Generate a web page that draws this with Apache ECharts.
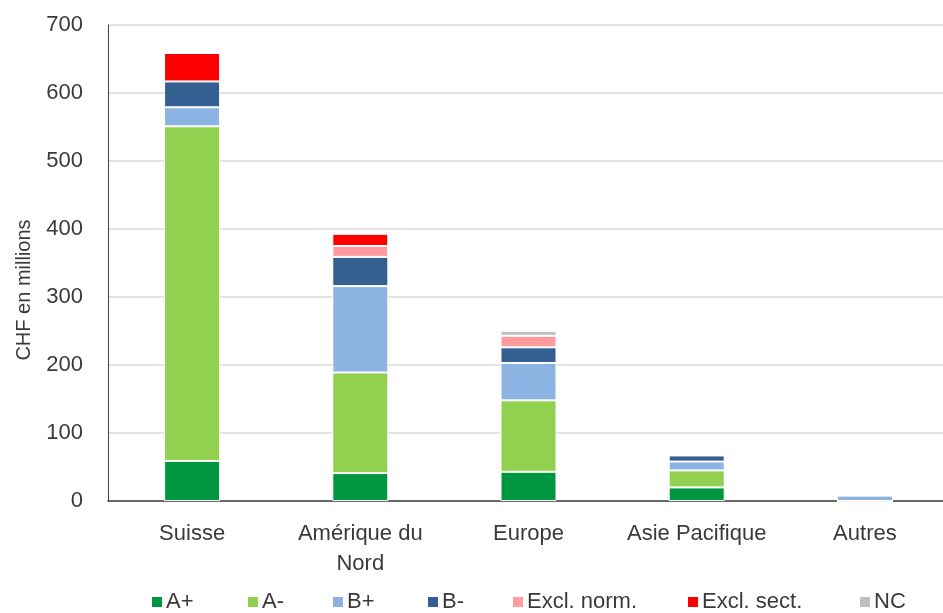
<!DOCTYPE html>
<html>
<head>
<meta charset="utf-8">
<script src="https://cdn.jsdelivr.net/npm/echarts@6/dist/echarts.min.js"></script>
<style>
  html, body { margin: 0; padding: 0; background: #fff; overflow: hidden; }
  #chart { width: 949px; height: 613px; }
</style>
</head>
<body>
<div id="chart"></div>
<script>
// categories & series values (CHF millions)
const categories = ['Suisse', 'Amérique du\nNord', 'Europe', 'Asie Pacifique', 'Autres']
const aPlus = [59, 41, 43, 20, 0]
const aMinus = [492, 148, 105, 25, 0]
const bPlus = [28, 127, 55, 13, 8]
const bMinus = [38, 43, 23, 9, 0]
const exclNorm = [0, 16, 17, 0, 0]
const exclSect = [42, 18, 0, 0, 0]
const nc = [0, 0, 7, 0, 0]

const seriesNames = ['A+', 'A-', 'B+', 'B-', 'Excl. norm.', 'Excl. sect.', 'NC']
const seriesData = [aPlus, aMinus, bPlus, bMinus, exclNorm, exclSect, nc]
const seriesColors = ['#00963f', '#92d050', '#8db3e2', '#335f91', '#ff9b9f', '#ff0000', '#bfbfbf']
const legendLeft = [150, 246, 331, 426, 511, 686, 858]

const font = 'Liberation Sans, Arial, sans-serif'
const textColor = '#3a3a3a'

// 图表容器比窗口略宽，使最右类目区间与原图一致
const chart = echarts.init(document.getElementById('chart'))

const option = {
  animation: false,
  textStyle: { fontFamily: font },
  grid: { left: 108, right: 0, top: 25, bottom: 112, containLabel: false },
  legend: seriesNames.map((n, i) => ({
    data: [n],
    left: legendLeft[i],
    top: 591,
    padding: 0,
    itemWidth: 12,
    itemHeight: 12,
    itemGap: 0,
    icon: 'rect',
    selectedMode: false,
    textStyle: { fontSize: 22, color: textColor, fontFamily: font, padding: [0, 0, 0, -2] }
  })),
  graphic: [{
    type: 'text',
    x: 24,
    y: 290,
    rotation: Math.PI / 2,
    style: {
      text: 'CHF en millions',
      fontSize: 20,
      fontFamily: font,
      fill: textColor,
      textAlign: 'center',
      textVerticalAlign: 'middle'
    }
  }],
  xAxis: {
    type: 'category',
    data: categories,
    axisLine: { lineStyle: { color: '#404040', width: 1.5 } },
    axisTick: { show: false },
    axisLabel: { fontSize: 22, color: textColor, margin: 18, lineHeight: 30, interval: 0 }
  },
  yAxis: {
    type: 'value',
    min: 0,
    max: 700,
    interval: 100,
    axisLine: { show: true, lineStyle: { color: '#404040', width: 1 } },
    axisTick: { show: false },
    axisLabel: { fontSize: 22, color: textColor, margin: 25 },
    splitLine: { lineStyle: { color: '#d9d9d9', width: 1.5 } }
  },
  series: seriesNames.map((n, i) => ({
    name: n,
    type: 'bar',
    stack: 'total',
    barWidth: 56,
    data: seriesData[i],
    itemStyle: { color: seriesColors[i], borderColor: '#fff', borderWidth: 1 }
  }))
}

chart.setOption(option)
</script>
</body>
</html>
